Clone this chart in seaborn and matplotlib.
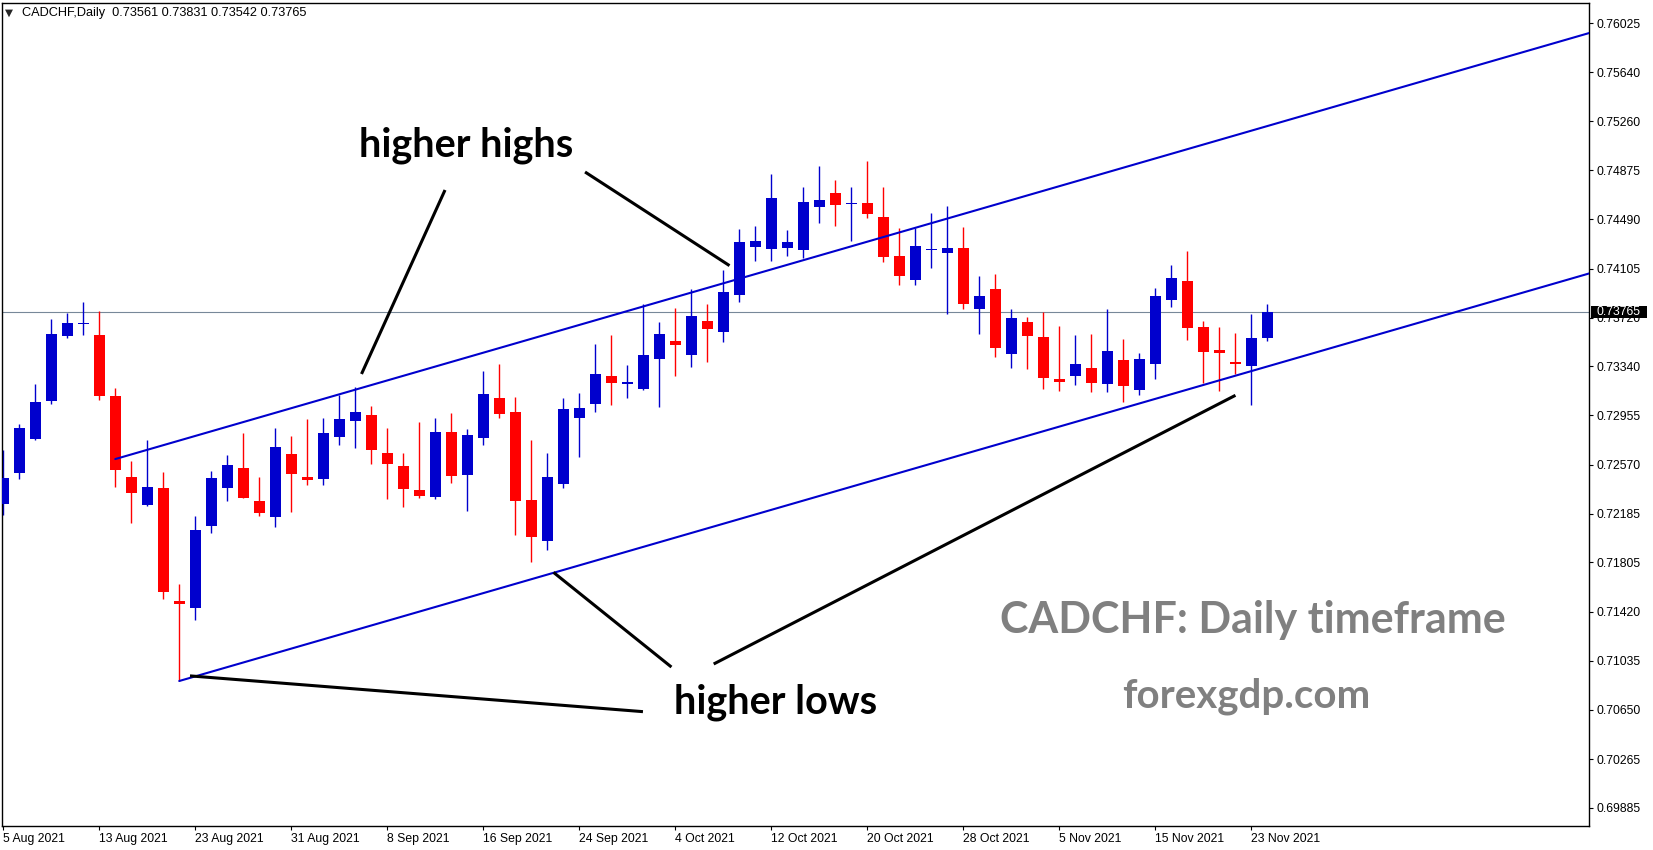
import numpy as np
import pandas as pd
import matplotlib
matplotlib.use("Agg")
import matplotlib.pyplot as plt
import matplotlib.transforms as mtransforms
from matplotlib.patches import Rectangle
import seaborn as sns

# --- CADCHF daily candles, 5 Aug 2021 -> 24 Nov 2021 ---
dates = pd.bdate_range("2021-08-05", "2021-11-24")

opens = [0.72264, 0.72507, 0.72773, 0.73071, 0.73580, 0.73669, 0.73585, 0.73108, 0.72473, 0.72257,
         0.72387, 0.71503, 0.71450, 0.72092, 0.72390, 0.72544, 0.72286, 0.72163, 0.72654, 0.72473,
         0.72460, 0.72789, 0.72914, 0.72959, 0.72661, 0.72560, 0.72372, 0.72319, 0.72826, 0.72491,
         0.72781, 0.73092, 0.72982, 0.72293, 0.71975, 0.72421, 0.72938, 0.73047, 0.73264, 0.73204,
         0.73165, 0.73400, 0.73538, 0.73431, 0.73695, 0.73611, 0.73901, 0.74274, 0.74258, 0.74266,
         0.74250, 0.74589, 0.74697, 0.74608, 0.74618, 0.74509, 0.74203, 0.74018, 0.74248, 0.74229,
         0.74266, 0.73791, 0.73945, 0.73439, 0.73687, 0.73569, 0.73241, 0.73266, 0.73327, 0.73204,
         0.73389, 0.73157, 0.73360, 0.73861, 0.74008, 0.73648, 0.73468, 0.73376, 0.73345, 0.73561]
highs = [0.72685, 0.72888, 0.73201, 0.73710, 0.73760, 0.73843, 0.73773, 0.73170, 0.72599, 0.72763,
         0.72513, 0.71636, 0.72168, 0.72520, 0.72646, 0.72818, 0.72473, 0.72857, 0.72794, 0.72928,
         0.72935, 0.73118, 0.73178, 0.73029, 0.72857, 0.72661, 0.72904, 0.72935, 0.72974, 0.72849,
         0.73303, 0.73358, 0.73100, 0.72763, 0.72661, 0.73092, 0.73131, 0.73515, 0.73585, 0.73350,
         0.73825, 0.73687, 0.73796, 0.73945, 0.73828, 0.74094, 0.74415, 0.74438, 0.74845, 0.74407,
         0.74744, 0.74908, 0.74798, 0.74744, 0.74947, 0.74744, 0.74423, 0.74423, 0.74540, 0.74595,
         0.74430, 0.74047, 0.74063, 0.73789, 0.73726, 0.73765, 0.73656, 0.73585, 0.73593, 0.73789,
         0.73554, 0.73444, 0.73953, 0.74133, 0.74243, 0.73695, 0.73648, 0.73601, 0.73749, 0.73831]
lows = [0.72174, 0.72460, 0.72763, 0.73047, 0.73564, 0.73587, 0.73079, 0.72398, 0.72116, 0.72249,
        0.71521, 0.70877, 0.71356, 0.72037, 0.72288, 0.72309, 0.72171, 0.72084, 0.72202, 0.72413,
        0.72413, 0.72726, 0.72703, 0.72578, 0.72304, 0.72241, 0.72311, 0.72304, 0.72429, 0.72210,
        0.72726, 0.72938, 0.72022, 0.71810, 0.71904, 0.72390, 0.72632, 0.72985, 0.73039, 0.73094,
        0.73157, 0.73024, 0.73266, 0.73337, 0.73376, 0.73533, 0.73846, 0.74164, 0.74164, 0.74203,
        0.74188, 0.74462, 0.74441, 0.74323, 0.74503, 0.74159, 0.73979, 0.73979, 0.74112, 0.73752,
        0.73791, 0.73595, 0.73415, 0.73329, 0.73321, 0.73165, 0.73149, 0.73196, 0.73141, 0.73141,
        0.73063, 0.73118, 0.73243, 0.73807, 0.73548, 0.73212, 0.73149, 0.73282, 0.73037, 0.73542]
closes = [0.72466, 0.72857, 0.73061, 0.73593, 0.73679, 0.73679, 0.73110, 0.72531, 0.72351, 0.72395,
          0.71576, 0.71482, 0.72059, 0.72466, 0.72567, 0.72311, 0.72194, 0.72708, 0.72499, 0.72452,
          0.72818, 0.72928, 0.72982, 0.72687, 0.72578, 0.72382, 0.72327, 0.72826, 0.72484, 0.72802,
          0.73123, 0.72969, 0.72288, 0.72006, 0.72473, 0.73006, 0.73014, 0.73280, 0.73212, 0.73217,
          0.73429, 0.73593, 0.73509, 0.73734, 0.73634, 0.73922, 0.74313, 0.74321, 0.74658, 0.74313,
          0.74626, 0.74642, 0.74605, 0.74618, 0.74535, 0.74198, 0.74049, 0.74282, 0.74258, 0.74266,
          0.73830, 0.73890, 0.73486, 0.73718, 0.73580, 0.73251, 0.73220, 0.73358, 0.73212, 0.73460,
          0.73188, 0.73397, 0.73890, 0.74031, 0.73642, 0.73454, 0.73447, 0.73360, 0.73562, 0.73765]

last_price = 0.73765
price_ticks = [0.69885, 0.70265, 0.70650, 0.71035, 0.71420, 0.71805, 0.72185, 0.72570, 0.72955,
               0.73340, 0.73720, 0.74105, 0.74490, 0.74875, 0.75260, 0.75640, 0.76025]

# channel drawn by the analyst: anchor bar, anchor price, slope per bar
upper_anchor = (7, 0.72614)
lower_anchor = (11, 0.70877)
channel_slope = 0.000362

# annotation pointer lines (bar index, price)
pointers = [((27.61, 0.74720), (22.39, 0.73280)),
            ((36.36, 0.74861), (45.39, 0.74128)),
            ((41.76, 0.70986), (34.39, 0.71727)),
            ((44.40, 0.71010), (77.01, 0.73113)),
            ((11.67, 0.70917), (39.98, 0.70637))]

BLUE = "#0000CD"
RED = "#FF0000"

sns.set_theme(style="white")
plt.rcParams['font.family'] = ['Liberation Sans', 'DejaVu Sans']

df = pd.DataFrame({"date": dates, "open": opens, "high": highs, "low": lows, "close": closes})
df["bar"] = np.arange(len(df))
colors = np.where(df["close"] >= df["open"], BLUE, RED)

W, H = 1653, 850
fig = plt.figure(figsize=(W / 100, H / 100), dpi=100)
ax = fig.add_axes([2.3 / W, 1 - 826 / H, 1587 / W, 823.3 / H])

xmin, xmax = -0.06, 99.125
ymin, ymax = 0.69742, 0.76186
ax.set_xlim(xmin, xmax)
ax.set_ylim(ymin, ymax)

# bid line
ax.axhline(last_price, color="#778899", lw=0.8, zorder=1)

# candles
ax.vlines(df["bar"], df["low"], df["high"], colors=colors, lw=1.0, zorder=2)
ax.bar(df["bar"], (df["close"] - df["open"]).abs(), bottom=df[["open", "close"]].min(axis=1),
       width=0.69, color=colors, linewidth=0, zorder=3)

# channel lines
for bx, by in (upper_anchor, lower_anchor):
    seg = pd.DataFrame({"x": [bx, xmax], "y": [by, by + channel_slope * (xmax - bx)]})
    sns.lineplot(data=seg, x="x", y="y", ax=ax, color=BLUE, lw=1.5, zorder=4)

# pointer lines
for (x0, y0), (x1, y1) in pointers:
    ax.plot([x0, x1], [y0, y1], color="black", lw=2.2, solid_capstyle="butt", zorder=5)

ann = dict(family=["Lato", "DejaVu Sans"], fontweight="bold", ha="center", va="center", zorder=6)
ax.text(28.92, 0.75068, "higher highs", fontsize=28.5, color="black", **ann)
ax.text(48.29, 0.70712, "higher lows", fontsize=28.5, color="black", **ann)
ax.text(78.11, 0.71354, "CADCHF: Daily timeframe", fontsize=31, color="#808080", **ann)
ax.text(77.67, 0.70759, "forexgdp.com", fontsize=29, color="#808080", **ann)

# axes styling like the terminal
ax.set_xlabel("")
ax.set_ylabel("")
for s in ax.spines.values():
    s.set_color("black")
    s.set_linewidth(1.0)
ax.grid(False)

ax.yaxis.tick_right()
ax.set_yticks(price_ticks)
ax.set_yticklabels([f"{p:.5f}" for p in price_ticks])
ax.tick_params(axis="y", right=True, left=False, direction="out", length=3, width=0.8,
               pad=2, labelsize=8.8, colors="black")

tick_bars = df["bar"][::6]
ax.set_xticks(tick_bars)
ax.set_xticklabels([f"{d.day} {d.strftime('%b %Y')}" for d in df["date"][::6]], ha="left")
ax.tick_params(axis="x", bottom=True, direction="out", length=3, width=0.8,
               pad=2, labelsize=8.8, colors="black")

# last price tag on the scale
tr = mtransforms.blended_transform_factory(ax.transAxes, ax.transData)
ax.add_patch(Rectangle((1.0009, 0.73718), 0.0353, 0.00094, transform=tr,
                       facecolor="black", edgecolor="none", clip_on=False, zorder=10))
ax.text(1.0048, last_price, f"{last_price:.5f}", transform=tr, color="white",
        fontsize=8.8, va="center", ha="left", clip_on=False, zorder=11)

# header
fig.text(5 / W, 1 - 13 / H, "\u25bc", fontsize=7.5, family="DejaVu Sans", va="center", ha="left")
fig.text(22 / W, 1 - 13 / H,
         f"CADCHF,Daily  {opens[-1]:.5f} {highs[-1]:.5f} {lows[-1]:.5f} {closes[-1]:.5f}",
         fontsize=9.2, va="center", ha="left", color="black")

fig.savefig("out.png", dpi=100, facecolor="white")
plt.close(fig)
